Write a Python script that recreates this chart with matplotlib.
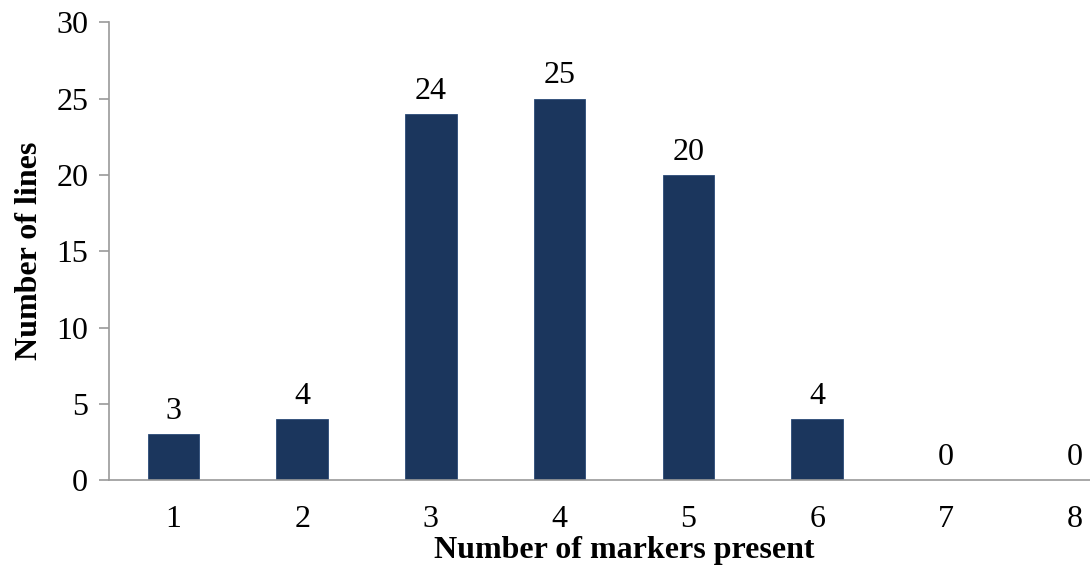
import matplotlib
matplotlib.use("Agg")
from matplotlib import pyplot as plt

# marker counts per line
markers = [1, 2, 3, 4, 5, 6, 7, 8]
n_lines = [3, 4, 24, 25, 20, 4, 0, 0]

plt.rcParams["font.family"] = ["Liberation Serif", "DejaVu Serif"]

fig = plt.figure(figsize=(10.9, 5.71), dpi=100)
ax = fig.add_axes([0.1, 0.159, 0.945, 0.802])

ax.bar(markers, n_lines, width=0.4, color="#1B365D", edgecolor="#2A4A78", linewidth=0.6)

for x, v in zip(markers, n_lines):
    ax.annotate(str(v), (x, v), xytext=(0, 6), textcoords="offset points",
                ha="center", va="bottom", fontsize=23)

ax.set_xlim(0.5, 8.5)
ax.set_ylim(0, 30)
ax.set_yticks(range(0, 31, 5))
ax.set_xticks(markers)

for side in ["top", "right"]:
    ax.spines[side].set_visible(False)
for side in ["left", "bottom"]:
    ax.spines[side].set_color("#9a9a9a")
    ax.spines[side].set_linewidth(1.2)

ax.tick_params(axis="y", length=7, width=1.2, color="#9a9a9a", labelsize=23, pad=8)
ax.tick_params(axis="x", length=0, labelsize=23, pad=18)

ax.set_xlabel("Number of markers present", fontsize=23, fontweight="bold")
ax.set_ylabel("Number of lines", fontsize=23, fontweight="bold")
ax.xaxis.set_label_coords(0.5, -0.153)
ax.xaxis.label.set_va("center")
ax.yaxis.set_label_coords(-0.077, 0.5)
ax.yaxis.label.set_va("center")

fig.savefig("out.png", dpi=100)
